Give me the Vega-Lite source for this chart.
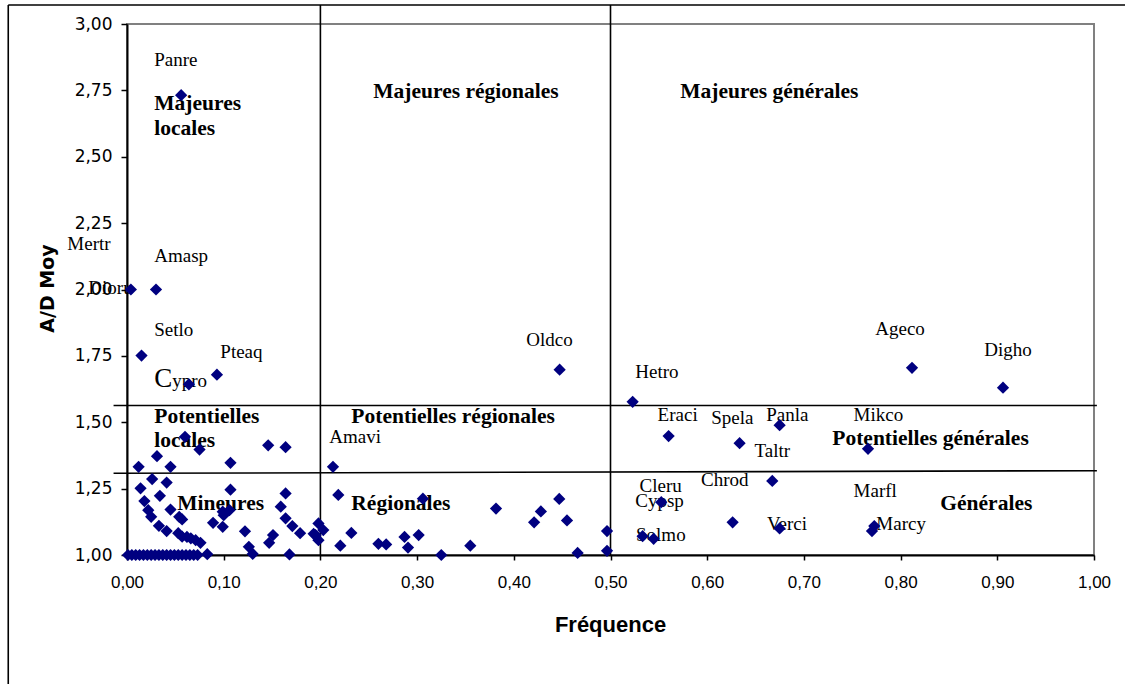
{
  "$schema": "https://vega.github.io/schema/vega-lite/v6.json",
  "width": 967,
  "height": 531,
  "autosize": {"type": "none"},
  "padding": {"left": 127, "top": 24, "right": 31, "bottom": 129},
  "background": "white",
  "config": {
    "view": {"stroke": "#808080", "strokeWidth": 2},
    "axis": {"grid": false, "domainColor": "black", "domainWidth": 2, "tickColor": "black", "tickWidth": 1.5, "labelColor": "black", "titleColor": "black", "labelFlush": false}
  },
  "datasets": {
    "rules": [
      {"x": -0.1228, "x2": 1.0324, "y": 3.0716, "y2": 3.0716},
      {"x": -0.1228, "x2": -0.1228, "y": 3.0716, "y2": 0.514},
      {"x": 0.2, "x2": 0.2, "y": 3.0716, "y2": 1.0},
      {"x": 0.5, "x2": 0.5, "y": 3.0716, "y2": 1.0},
      {"x": -0.0139, "x2": 1.003, "y": 1.563, "y2": 1.563},
      {"x": -0.0139, "x2": 1.003, "y": 1.3077, "y2": 1.3175}
    ],
    "points": [
      {"x": 0.056, "y": 2.732}, {"x": 0.004, "y": 2.0}, {"x": 0.03, "y": 2.0}, {"x": 0.015, "y": 1.751}, {"x": 0.064, "y": 1.643}, {"x": 0.093, "y": 1.679},
      {"x": 0.4474, "y": 1.698}, {"x": 0.5229, "y": 1.577}, {"x": 0.8118, "y": 1.705}, {"x": 0.9059, "y": 1.63},
      {"x": 0.213, "y": 1.332}, {"x": 0.5601, "y": 1.448}, {"x": 0.6335, "y": 1.421}, {"x": 0.6749, "y": 1.489}, {"x": 0.7663, "y": 1.4},
      {"x": 0.012, "y": 1.332}, {"x": 0.031, "y": 1.372}, {"x": 0.045, "y": 1.332}, {"x": 0.06, "y": 1.445}, {"x": 0.075, "y": 1.397},
      {"x": 0.107, "y": 1.347}, {"x": 0.146, "y": 1.413}, {"x": 0.164, "y": 1.406},
      {"x": 0.014, "y": 1.251}, {"x": 0.026, "y": 1.286}, {"x": 0.041, "y": 1.273}, {"x": 0.034, "y": 1.223},
      {"x": 0.018, "y": 1.203}, {"x": 0.022, "y": 1.169}, {"x": 0.025, "y": 1.144},
      {"x": 0.045, "y": 1.171}, {"x": 0.054, "y": 1.144}, {"x": 0.057, "y": 1.134},
      {"x": 0.033, "y": 1.11}, {"x": 0.041, "y": 1.09},
      {"x": 0.053, "y": 1.082}, {"x": 0.057, "y": 1.069}, {"x": 0.062, "y": 1.068}, {"x": 0.066, "y": 1.063}, {"x": 0.071, "y": 1.056}, {"x": 0.076, "y": 1.046},
      {"x": 0.083, "y": 1.003}, {"x": 0.089, "y": 1.121}, {"x": 0.099, "y": 1.106},
      {"x": 0.107, "y": 1.246}, {"x": 0.106, "y": 1.169}, {"x": 0.1, "y": 1.15}, {"x": 0.099, "y": 1.163},
      {"x": 0.122, "y": 1.089}, {"x": 0.126, "y": 1.031}, {"x": 0.13, "y": 1.004},
      {"x": 0.164, "y": 1.232}, {"x": 0.159, "y": 1.182}, {"x": 0.164, "y": 1.138}, {"x": 0.171, "y": 1.109}, {"x": 0.179, "y": 1.082},
      {"x": 0.147, "y": 1.046}, {"x": 0.151, "y": 1.075}, {"x": 0.168, "y": 1.002},
      {"x": 0.198, "y": 1.119}, {"x": 0.203, "y": 1.094}, {"x": 0.195, "y": 1.075}, {"x": 0.198, "y": 1.056}, {"x": 0.193, "y": 1.08},
      {"x": 0.2185, "y": 1.226}, {"x": 0.2206, "y": 1.035}, {"x": 0.232, "y": 1.083},
      {"x": 0.26, "y": 1.042}, {"x": 0.268, "y": 1.04},
      {"x": 0.287, "y": 1.068}, {"x": 0.2906, "y": 1.028}, {"x": 0.3016, "y": 1.075}, {"x": 0.306, "y": 1.212},
      {"x": 0.325, "y": 1.0}, {"x": 0.355, "y": 1.035}, {"x": 0.3816, "y": 1.175},
      {"x": 0.421, "y": 1.123}, {"x": 0.428, "y": 1.164}, {"x": 0.447, "y": 1.211}, {"x": 0.455, "y": 1.13}, {"x": 0.466, "y": 1.008},
      {"x": 0.4964, "y": 1.09}, {"x": 0.4964, "y": 1.016},
      {"x": 0.5332, "y": 1.071}, {"x": 0.5446, "y": 1.061}, {"x": 0.5525, "y": 1.199},
      {"x": 0.6263, "y": 1.123}, {"x": 0.6673, "y": 1.279}, {"x": 0.6749, "y": 1.1},
      {"x": 0.7704, "y": 1.09}, {"x": 0.7728, "y": 1.109},
      {"x": 0.001, "y": 1.0}, {"x": 0.005, "y": 1.0}, {"x": 0.009, "y": 1.0}, {"x": 0.013, "y": 1.0}, {"x": 0.017, "y": 1.0},
      {"x": 0.021, "y": 1.0}, {"x": 0.025, "y": 1.0}, {"x": 0.029, "y": 1.0}, {"x": 0.033, "y": 1.0}, {"x": 0.037, "y": 1.0},
      {"x": 0.041, "y": 1.0}, {"x": 0.045, "y": 1.0}, {"x": 0.049, "y": 1.0}, {"x": 0.053, "y": 1.0}, {"x": 0.057, "y": 1.0},
      {"x": 0.061, "y": 1.0}, {"x": 0.065, "y": 1.0}, {"x": 0.069, "y": 1.0}, {"x": 0.073, "y": 1.0}
    ],
    "labels": [
      {"name": "Panre", "x": 0.0282, "y": 2.842},
      {"name": "Mertr", "x": -0.0617, "y": 2.149},
      {"name": "Amasp", "x": 0.0282, "y": 2.104},
      {"name": "Dioru", "x": -0.04, "y": 1.983},
      {"name": "Setlo", "x": 0.0282, "y": 1.825},
      {"name": "Pteaq", "x": 0.0965, "y": 1.742},
      {"name": "ypro", "x": 0.0468, "y": 1.633},
      {"name": "Oldco", "x": 0.4129, "y": 1.787},
      {"name": "Hetro", "x": 0.5256, "y": 1.667},
      {"name": "Ageco", "x": 0.7738, "y": 1.8286},
      {"name": "Digho", "x": 0.8866, "y": 1.75},
      {"name": "Amavi", "x": 0.2092, "y": 1.422},
      {"name": "Eraci", "x": 0.5487, "y": 1.505},
      {"name": "Spela", "x": 0.6042, "y": 1.493},
      {"name": "Panla", "x": 0.6611, "y": 1.505},
      {"name": "Mikco", "x": 0.7514, "y": 1.505},
      {"name": "Taltr", "x": 0.649, "y": 1.369},
      {"name": "Chrod", "x": 0.5936, "y": 1.26},
      {"name": "Cleru", "x": 0.5301, "y": 1.237},
      {"name": "Cypsp", "x": 0.5256, "y": 1.181},
      {"name": "Marfl", "x": 0.7514, "y": 1.218},
      {"name": "Verci", "x": 0.6618, "y": 1.094},
      {"name": "Marcy", "x": 0.7749, "y": 1.094},
      {"name": "Solmo", "x": 0.5264, "y": 1.053}
    ],
    "zones": [
      {"name": "Majeures", "x": 0.0282, "y": 2.676},
      {"name": "locales", "x": 0.0282, "y": 2.582},
      {"name": "Majeures régionales", "x": 0.2547, "y": 2.721},
      {"name": "Majeures générales", "x": 0.5722, "y": 2.721},
      {"name": "Potentielles", "x": 0.0282, "y": 1.497},
      {"name": "locales", "x": 0.0282, "y": 1.407},
      {"name": "Potentielles régionales", "x": 0.232, "y": 1.497},
      {"name": "Potentielles générales", "x": 0.7294, "y": 1.414},
      {"name": "Mineures", "x": 0.052, "y": 1.169},
      {"name": "Régionales", "x": 0.232, "y": 1.169},
      {"name": "Générales", "x": 0.8411, "y": 1.169}
    ]
  },
  "encoding": {
    "x": {
      "field": "x", "type": "quantitative",
      "scale": {"domain": [0, 1], "nice": false, "zero": false},
      "axis": {
        "values": [0, 0.1, 0.2, 0.3, 0.4, 0.5, 0.6, 0.7, 0.8, 0.9, 1.0],
        "labelExpr": "replace(format(datum.value, '.2f'), '.', ',')",
        "labelFont": "Liberation Sans", "labelFontSize": 17, "labelPadding": 14, "tickSize": 5,
        "title": "Fréquence", "titleFont": "Liberation Sans", "titleFontSize": 22, "titleFontWeight": "bold",
        "titleBaseline": "alphabetic", "titleX": 483, "titleY": 76
      }
    },
    "y": {
      "field": "y", "type": "quantitative",
      "scale": {"domain": [1, 3], "nice": false, "zero": false},
      "axis": {
        "values": [1, 1.25, 1.5, 1.75, 2, 2.25, 2.5, 2.75, 3],
        "labelExpr": "replace(format(datum.value, '.2f'), '.', ',')",
        "labelFont": "DejaVu Sans", "labelFontSize": 17, "labelPadding": 9, "tickSize": 6,
        "title": "A/D Moy", "titleFont": "DejaVu Sans", "titleFontSize": 19, "titleFontWeight": "bold",
        "titleBaseline": "alphabetic", "titleX": -74, "titleY": 264, "titleAngle": -90
      }
    }
  },
  "layer": [
    {
      "data": {"name": "rules"},
      "mark": {"type": "rule", "color": "black", "strokeWidth": 1.6},
      "encoding": {"x2": {"field": "x2"}, "y2": {"field": "y2"}}
    },
    {
      "data": {"name": "zones"},
      "mark": {"type": "text", "align": "left", "baseline": "alphabetic", "font": "Liberation Serif", "fontSize": 21.5, "fontWeight": "bold", "color": "black"},
      "encoding": {"text": {"field": "name"}}
    },
    {
      "data": {"name": "labels"},
      "mark": {"type": "text", "align": "left", "baseline": "alphabetic", "font": "Liberation Serif", "fontSize": 19, "color": "black"},
      "encoding": {"text": {"field": "name"}}
    },
    {
      "data": {"values": [{"name": "C", "x": 0.0282, "y": 1.633}]},
      "mark": {"type": "text", "align": "left", "baseline": "alphabetic", "font": "Liberation Serif", "fontSize": 27, "color": "black"},
      "encoding": {"text": {"field": "name"}}
    },
    {
      "data": {"name": "points"},
      "mark": {"type": "point", "shape": "diamond", "filled": true, "size": 150, "color": "#000080", "opacity": 1}
    }
  ]
}
